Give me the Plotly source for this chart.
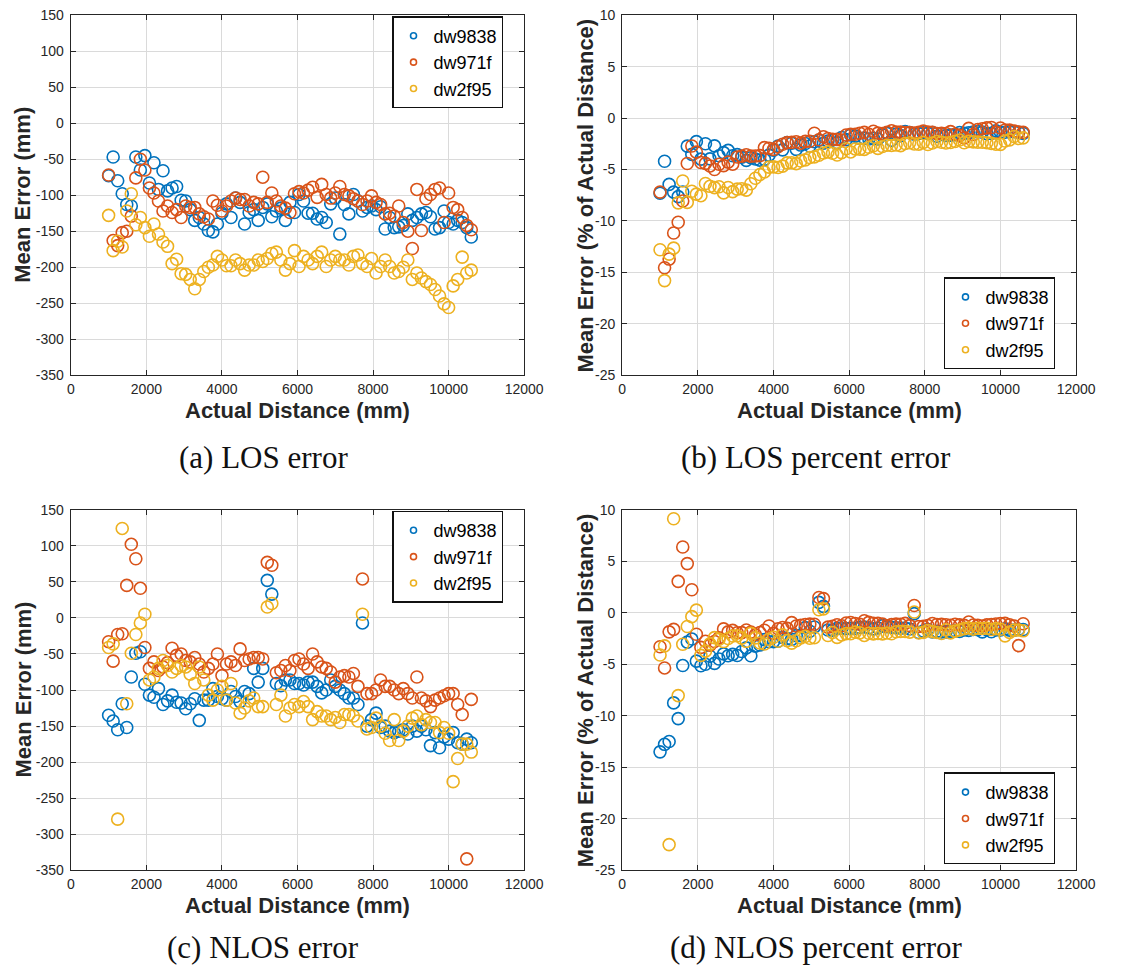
import plotly.graph_objects as go

# Actual distance of each measurement position (mm)
DIST_MM = [
    1000, 1120, 1240, 1360, 1480, 1600, 1720, 1840, 1960, 2080,
    2200, 2320, 2440, 2560, 2680, 2800, 2920, 3040, 3160, 3280,
    3400, 3520, 3640, 3760, 3880, 4000, 4120, 4240, 4360, 4480,
    4600, 4720, 4840, 4960, 5080, 5200, 5320, 5440, 5560, 5680,
    5800, 5920, 6040, 6160, 6280, 6400, 6520, 6640, 6760, 6880,
    7000, 7120, 7240, 7360, 7480, 7600, 7720, 7840, 7960, 8080,
    8200, 8320, 8440, 8560, 8680, 8800, 8920, 9040, 9160, 9280,
    9400, 9520, 9640, 9760, 9880, 10000, 10120, 10240, 10360, 10480,
    10600,
]

# Line-of-sight mean ranging error (mm) per anchor
LOS_ERR_9838 = [
    -73, -47, -80, -98, -113, -115, -47, -65, -45, -83,
    -55, -92, -66, -94, -90, -88, -107, -108, -120, -135,
    -131, -140, -149, -151, -140, -125, -112, -131, -104, -110,
    -140, -124, -120, -135, -117, -112, -130, -122, -118, -135,
    -110, -124, -99, -108, -125, -125, -133, -131, -138, -112,
    -104, -154, -113, -126, -99, -108, -122, -117, -115, -120,
    -116, -147, -131, -145, -144, -142, -126, -135, -131, -126,
    -124, -130, -147, -145, -122, -138, -140, -135, -138, -145,
    -158,
]
LOS_ERR_971F = [
    -72, -163, -170, -152, -150, -129, -76, -50, -65, -90,
    -97, -108, -122, -115, -124, -120, -131, -115, -117, -117,
    -126, -130, -133, -108, -114, -122, -115, -108, -104, -106,
    -106, -115, -110, -112, -75, -110, -97, -108, -115, -118,
    -124, -98, -95, -97, -93, -89, -103, -85, -99, -104,
    -97, -88, -99, -101, -105, -108, -113, -108, -101, -110,
    -113, -126, -125, -129, -115, -138, -150, -174, -92, -149,
    -105, -99, -92, -90, -138, -97, -117, -120, -131, -142,
    -148,
]
LOS_ERR_2F95 = [
    -128, -177, -164, -172, -122, -98, -141, -131, -145, -157,
    -140, -154, -165, -171, -195, -189, -209, -210, -217, -230,
    -217, -206, -200, -197, -185, -190, -198, -198, -190, -195,
    -204, -197, -197, -190, -192, -188, -181, -179, -190, -204,
    -195, -177, -199, -185, -190, -195, -185, -179, -199, -190,
    -185, -190, -190, -197, -185, -183, -195, -199, -188, -208,
    -199, -190, -199, -208, -206, -200, -190, -217, -208, -215,
    -220, -224, -231, -240, -251, -256, -226, -217, -186, -208,
    -204,
]

# Non-line-of-sight mean ranging error (mm) per anchor
NLOS_ERR_9838 = [
    -135, -143, -155, -119, -152, -82, -49, -47, -92, -107,
    -110, -98, -120, -115, -107, -117, -118, -126, -119, -112,
    -142, -114, -114, -98, -109, -112, -114, -102, -109, -116,
    -102, -105, -70, -89, -70, 52, 33, -91, -94, -86,
    -86, -91, -91, -93, -89, -89, -95, -104, -100, -86,
    -95, -100, -105, -111, -111, -120, -7, -150, -141, -132,
    -152, -150, -157, -159, -157, -155, -161, -150, -157, -150,
    -155, -177, -159, -180, -165, -168, -159, -173, -175, -168,
    -173,
]
NLOS_ERR_971F = [
    -33, -60, -23, -22, 45, 102, 82, 41, -41, -70,
    -61, -73, -68, -62, -42, -52, -50, -59, -61, -55,
    -64, -75, -70, -64, -50, -80, -64, -61, -66, -43,
    -59, -57, -55, -55, -57, 77, 73, -76, -73, -66,
    -73, -59, -57, -64, -70, -50, -61, -68, -70, -75,
    -89, -82, -80, -82, -77, -95, 54, -105, -105, -100,
    -86, -95, -95, -100, -105, -98, -105, -111, -82, -111,
    -115, -123, -114, -111, -108, -105, -105, -120, -134, -334,
    -113,
]
NLOS_ERR_2F95 = [
    -41, -36, -279, 124, -119, -49, -23, -7, 5, -86,
    -82, -70, -59, -66, -75, -70, -66, -68, -78, -91,
    -68, -86, -107, -114, -100, -95, -114, -91, -118, -132,
    -125, -115, -111, -123, -123, 15, 20, -120, -107, -136,
    -125, -120, -123, -116, -123, -141, -130, -136, -136, -141,
    -138, -145, -134, -134, -136, -143, 5, -154, -152, -139,
    -150, -160, -170, -141, -170, -157, -150, -139, -136, -148,
    -141, -145, -145, -159, -152, -160, -227, -195, -175, -175,
    -186,
]

SERIES_NAMES = ["dw9838", "dw971f", "dw2f95"]
SERIES_COLORS = ["#0072BD", "#D95319", "#EDB120"]

X_TICKS = [0, 2000, 4000, 6000, 8000, 10000, 12000]
MM_TICKS = [150, 100, 50, 0, -50, -100, -150, -200, -250, -300, -350]
PCT_TICKS = [10, 5, 0, -5, -10, -15, -20, -25]

CAPTIONS = ["(a) LOS error", "(b) LOS percent error",
            "(c) NLOS error", "(d) NLOS percent error"]
X_TITLE = "Actual Distance (mm)"
Y_TITLE_MM = "Mean Error (mm)"
Y_TITLE_PCT = "Mean Error (% of Actual Distance)"


def percent_of_distance(err_mm):
    return [100.0 * e / d for e, d in zip(err_mm, DIST_MM)]


W, H = 1125, 980
INK = "#262626"
GRID = "#dadada"
SANS = "Liberation Sans"
SERIF = "Liberation Serif"

# plot-area boxes in pixels: (left, right, top, bottom)
LEFT_COL = (68.3, 531.5)
RIGHT_COL = (631.7, 1095.5)
TOP_ROW = (7.3, 373.3)
BOTTOM_ROW = (510.0, 876.7)


def xdom(col):
    return [col[0] / W, col[1] / W]


def ydom(row):
    return [1 - row[1] / H, 1 - row[0] / H]


panels = [
    dict(col=LEFT_COL, row=TOP_ROW, data=[LOS_ERR_9838, LOS_ERR_971F, LOS_ERR_2F95],
         pct=False, legend_at="top"),
    dict(col=RIGHT_COL, row=TOP_ROW, data=[LOS_ERR_9838, LOS_ERR_971F, LOS_ERR_2F95],
         pct=True, legend_at="bottom"),
    dict(col=LEFT_COL, row=BOTTOM_ROW, data=[NLOS_ERR_9838, NLOS_ERR_971F, NLOS_ERR_2F95],
         pct=False, legend_at="top"),
    dict(col=RIGHT_COL, row=BOTTOM_ROW, data=[NLOS_ERR_9838, NLOS_ERR_971F, NLOS_ERR_2F95],
         pct=True, legend_at="bottom"),
]

fig = go.Figure()
layout = dict(
    width=W, height=H,
    margin=dict(l=0, r=0, t=0, b=0),
    paper_bgcolor="white", plot_bgcolor="white",
    showlegend=True,
    annotations=[],
)

axis_common = dict(
    showgrid=True, gridcolor=GRID, gridwidth=1,
    showline=True, linecolor=INK, linewidth=1.4,
    mirror="ticks", ticks="inside", ticklen=5, tickwidth=1.3, tickcolor=INK,
    tickfont=dict(family=SANS, size=14, color=INK),
    zeroline=False, fixedrange=True,
)

for k, p in enumerate(panels):
    n = k + 1
    sfx = "" if n == 1 else str(n)
    xname, yname = "x" + sfx, "y" + sfx
    legend_id = "legend" + sfx

    if p["pct"]:
        yticks, yrange, ytitle = PCT_TICKS, [-25, 10], Y_TITLE_PCT
    else:
        yticks, yrange, ytitle = MM_TICKS, [-350, 150], Y_TITLE_MM

    layout["xaxis" + sfx] = dict(
        axis_common, domain=xdom(p["col"]), anchor=yname, range=[0, 12000],
        tickvals=X_TICKS, ticktext=[str(v) for v in X_TICKS], ticklabelstandoff=1,
    )
    layout["yaxis" + sfx] = dict(
        axis_common, domain=ydom(p["row"]), anchor=xname, range=yrange,
        tickvals=yticks, ticktext=[str(v) for v in yticks], ticklabelstandoff=3,
    )

    for series, name, color in zip(p["data"], SERIES_NAMES, SERIES_COLORS):
        yvals = percent_of_distance(series) if p["pct"] else series
        fig.add_trace(go.Scatter(
            x=DIST_MM, y=yvals, mode="markers", name=name, showlegend=False,
            xaxis=xname, yaxis=yname,
            marker=dict(symbol="circle-open", size=12, color=color,
                        line=dict(width=1.6, color=color)),
            hoverinfo="skip",
        ))
    # compact legend entries with small circle glyphs
    for name, color in zip(SERIES_NAMES, SERIES_COLORS):
        fig.add_trace(go.Scatter(
            x=[None], y=[None], mode="markers", name=name, legend=legend_id,
            xaxis=xname, yaxis=yname,
            marker=dict(symbol="circle-open", size=6, color=color,
                        line=dict(width=1.6, color=color)),
        ))

    right_px = p["col"][1] - 21.5
    if p["legend_at"] == "top":
        ly, lya = 1 - (p["row"][0] + 1) / H, "top"
    else:
        ly, lya = 1 - (p["row"][1] - 6) / H, "bottom"
    layout[legend_id] = dict(
        x=right_px / W, xanchor="right", y=ly, yanchor=lya,
        bgcolor="white", bordercolor="#111111", borderwidth=1.4,
        font=dict(family=SANS, size=18, color="#000000"),
        tracegroupgap=0, itemwidth=30,
    )

    cx = (p["col"][0] + p["col"][1]) / 2
    cy = (p["row"][0] + p["row"][1]) / 2
    # x-axis title
    layout["annotations"].append(dict(
        text=X_TITLE, xref="paper", yref="paper",
        x=cx / W, y=1 - (p["row"][1] + 36) / H, xanchor="center", yanchor="middle",
        showarrow=False, font=dict(family=SANS, size=22, color=INK, weight="bold"),
    ))
    # y-axis title
    ytitle_x = 19 if p["col"] is LEFT_COL else 594
    layout["annotations"].append(dict(
        text=ytitle, xref="paper", yref="paper", textangle=-90,
        x=ytitle_x / W, y=1 - cy / H, xanchor="center", yanchor="middle",
        showarrow=False, font=dict(family=SANS, size=22, color=INK, weight="bold"),
    ))
    # sub-figure caption
    cap_x = 265 if p["col"] is LEFT_COL else 830
    cap_y = 457 if p["row"] is TOP_ROW else 955
    layout["annotations"].append(dict(
        text=CAPTIONS[k], xref="paper", yref="paper",
        x=cap_x / W, y=1 - cap_y / H, xanchor="center", yanchor="middle",
        showarrow=False, font=dict(family=SERIF, size=31, color="#111111"),
    ))

fig.update_layout(**layout)
fig.write_html("out.html", config={"displayModeBar": False})
